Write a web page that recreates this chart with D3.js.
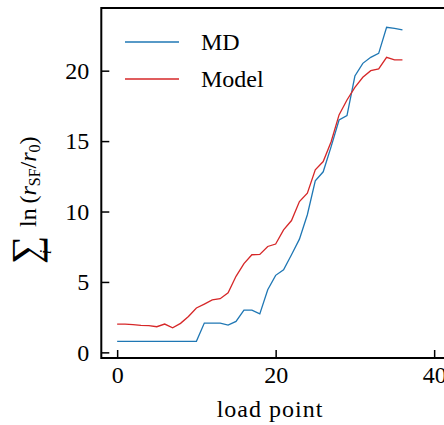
<!DOCTYPE html>
<html>
<head>
<meta charset="utf-8">
<script src="https://cdnjs.cloudflare.com/ajax/libs/d3/7.8.5/d3.min.js"></script>
<style>
svg, svg text, svg tspan { font-family: 'Liberation Serif'; }
</style>
</head>
<body style="margin:0">
<svg width="444" height="425" font-family="Liberation Serif"></svg>
<script>
// load points 0..36
var loadPoints = d3.range(0, 37);

var mdValues = [0.78, 0.78, 0.78, 0.78, 0.78, 0.78, 0.78, 0.78, 0.78, 0.78, 0.78,
  2.08, 2.08, 2.08, 1.93, 2.2, 3.0, 3.0, 2.73, 4.45, 5.47, 5.87, 6.93, 8.04, 9.77,
  12.18, 12.82, 14.61, 16.5, 16.81, 19.62, 20.52, 20.95, 21.23, 23.08, 23.0, 22.89];

var modelValues = [2.01, 2.0, 1.97, 1.92, 1.9, 1.82, 2.01, 1.75, 2.06, 2.55, 3.15,
  3.43, 3.72, 3.81, 4.23, 5.4, 6.3, 6.93, 6.95, 7.52, 7.69, 8.7, 9.36, 10.71, 11.3,
  12.96, 13.55, 14.96, 16.86, 17.92, 18.82, 19.53, 20.0, 20.12, 20.95, 20.76, 20.76];

var seriesNames = ["MD", "Model"];
var seriesColors = ["#1f77b4", "#d62728"];

var xTicks = [0, 20, 40];
var yTicks = [0, 5, 10, 15, 20];

var FONT = "Liberation Serif";

var svg = d3.select("svg"),
    width = +svg.attr("width"),
    height = +svg.attr("height");

// plot box (window.top is read-only, so use prefixed names)
var pLeft = 101.3, pRight = 450, pTop = 8, pBottom = 358;

var x = d3.scaleLinear().domain([-2, 42]).range([pLeft, pRight]);
var y = d3.scaleLinear().domain([-0.4, 24.45]).range([pBottom, pTop]);

var line = d3.line()
    .x(function(d, i) { return x(loadPoints[i]); })
    .y(function(d) { return y(d); });

svg.append("path")
    .datum(mdValues)
    .attr("fill", "none")
    .attr("stroke-width", 1.3)
    .attr("stroke", seriesColors[0])
    .attr("d", line);

svg.append("path")
    .datum(modelValues)
    .attr("fill", "none")
    .attr("stroke-width", 1.3)
    .attr("stroke", seriesColors[1])
    .attr("d", line);

// axes, ticks pointing inward
var gx = svg.append("g")
    .attr("transform", "translate(0," + pBottom + ")")
    .call(d3.axisBottom(x).tickValues(xTicks).tickSizeInner(-8).tickSizeOuter(0).tickPadding(8));

var gy = svg.append("g")
    .attr("transform", "translate(" + pLeft + ",0)")
    .call(d3.axisLeft(y).tickValues(yTicks).tickSizeInner(-8).tickSizeOuter(0).tickPadding(12));

[gx, gy].forEach(function(g) {
  g.attr("font-family", FONT).attr("font-size", 24);
  g.select(".domain").remove();
  g.selectAll(".tick line").attr("stroke", "#000").attr("stroke-width", 1.5);
  g.selectAll(".tick text")
      .attr("fill", "#000")
      .attr("font-family", FONT);
});

// spines (right one falls off the canvas)
svg.append("rect")
    .attr("x", pLeft)
    .attr("y", pTop)
    .attr("width", pRight - pLeft)
    .attr("height", pBottom - pTop)
    .attr("fill", "none")
    .attr("stroke", "#000")
    .attr("stroke-width", 2);

// legend
var legend = svg.append("g");
seriesNames.forEach(function(name, i) {
  var ly = 42 + i * 37;
  legend.append("line")
      .attr("x1", 125).attr("x2", 179)
      .attr("y1", ly).attr("y2", ly)
      .attr("stroke", seriesColors[i])
      .attr("stroke-width", 1.3);
  legend.append("text")
      .attr("x", 201)
      .attr("y", ly)
      .attr("dy", "0.35em")
      .attr("font-family", FONT)
      .attr("font-size", 24)
      .text(name);
});

// x label
svg.append("text")
    .attr("x", 270)
    .attr("y", 417)
    .attr("text-anchor", "middle")
    .attr("font-family", FONT)
    .attr("font-size", 24)
    .attr("letter-spacing", 1)
    .text("load point");

// y label: sum_i ln(r_SF / r_0), rotated
var yl = svg.append("g").attr("transform", "translate(30,199) rotate(-90)");
yl.append("text")
    .attr("x", -51).attr("y", 9)
    .attr("text-anchor", "middle")
    .attr("font-family", FONT)
    .attr("font-size", 40)
    .text("\u2211");
yl.append("text")
    .attr("x", -53).attr("y", 21)
    .attr("text-anchor", "middle")
    .attr("font-family", FONT)
    .attr("font-size", 16)
    .attr("font-style", "italic")
    .text("i");
var t = yl.append("text")
    .attr("x", -28).attr("y", 6)
    .attr("font-family", FONT)
    .attr("font-size", 24);
t.append("tspan").text("ln\u2009(");
t.append("tspan").attr("font-style", "italic").text("r");
t.append("tspan").attr("dy", 4).attr("font-size", 16).text("SF");
t.append("tspan").attr("dy", -4).text("/");
t.append("tspan").attr("font-style", "italic").text("r");
t.append("tspan").attr("dy", 4).attr("font-size", 16).text("0");
t.append("tspan").attr("dy", -4).text(")");
</script>
</body>
</html>
